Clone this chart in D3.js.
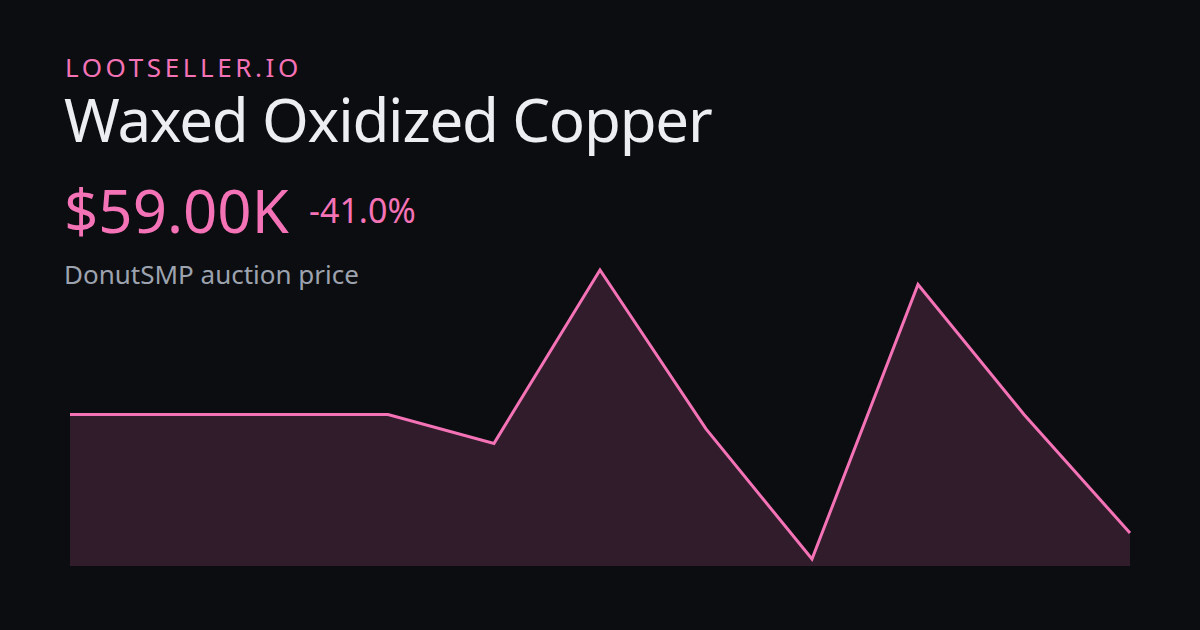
<!DOCTYPE html>
<html>
<head>
<meta charset="utf-8">
<script src="https://cdn.jsdelivr.net/npm/d3@7"></script>
<style>
  html, body { margin: 0; padding: 0; background: #0c0d11; }
  svg { display: block; }
</style>
</head>
<body>
<div id="chart-area"></div>
<script>
// prices in thousands, oldest -> newest
const points = [0, 1, 2, 3, 4, 5, 6, 7, 8, 9, 10]
const prices = [100, 100, 100, 100, 90, 150, 95, 50, 145, 100, 59]

const brand = "LOOTSELLER.IO"
const itemName = "Waxed Oxidized Copper"
const priceLabel = "$59.00K"
const changeLabel = "-41.0%"
const subtitle = "DonutSMP auction price"

const WIDTH = 1200
const HEIGHT = 630
const FONT = "'Noto Sans', 'Open Sans', sans-serif"
const PINK = "#f472b6"

const svg = d3.select("#chart-area")
  .append("svg")
  .attr("width", WIDTH)
  .attr("height", HEIGHT)

svg.append("rect")
  .attr("width", WIDTH)
  .attr("height", HEIGHT)
  .attr("fill", "#0c0d11")

// header texts
svg.append("text")
  .attr("x", 65)
  .attr("y", 77)
  .attr("font-family", FONT)
  .attr("font-size", "26px")
  .attr("letter-spacing", "3.6px")
  .attr("fill", PINK)
  .text(brand)

svg.append("text")
  .attr("x", 64)
  .attr("y", 142)
  .attr("font-family", FONT)
  .attr("font-size", "60px")
  .attr("letter-spacing", "-1.2px")
  .attr("fill", "#eceef2")
  .text(itemName)

svg.append("text")
  .attr("x", 64)
  .attr("y", 233)
  .attr("font-family", FONT)
  .attr("font-size", "60px")
  .attr("fill", PINK)
  .text(priceLabel)

svg.append("text")
  .attr("x", 309)
  .attr("y", 223)
  .attr("font-family", FONT)
  .attr("font-size", "34px")
  .attr("fill", PINK)
  .text(changeLabel)

svg.append("text")
  .attr("x", 64)
  .attr("y", 284)
  .attr("font-family", FONT)
  .attr("font-size", "26px")
  .attr("fill", "#9ca3af")
  .text(subtitle)

// chart
const x = d3.scaleLinear()
  .domain(d3.extent(points))
  .range([70, 1130])

const y = d3.scaleLinear()
  .domain([d3.min(prices), d3.max(prices)])
  .range([559, 270])

const BOTTOM = 566

const data = points.map((p, i) => ({ p, v: prices[i] }))

const area = d3.area()
  .x(d => x(d.p))
  .y0(BOTTOM)
  .y1(d => y(d.v))

const line = d3.line()
  .x(d => x(d.p))
  .y(d => y(d.v))

svg.append("path")
  .datum(data)
  .attr("d", area)
  .attr("fill", PINK)
  .attr("fill-opacity", 0.16)

svg.append("path")
  .datum(data)
  .attr("d", line)
  .attr("fill", "none")
  .attr("stroke", PINK)
  .attr("stroke-width", 3)
  .attr("stroke-linejoin", "miter")
</script>
</body>
</html>
